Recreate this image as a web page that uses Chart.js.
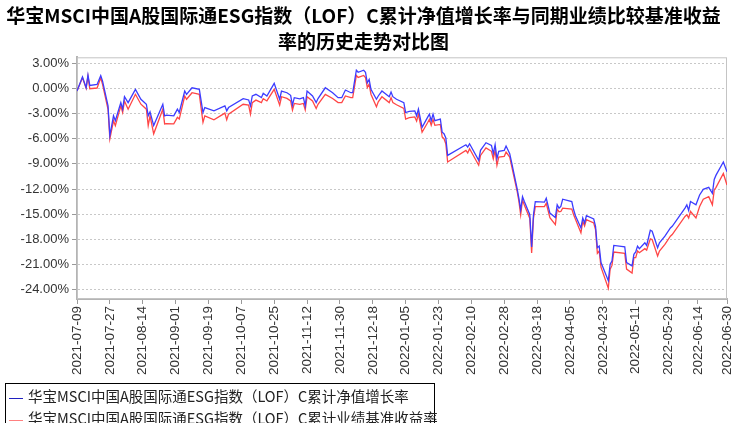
<!DOCTYPE html>
<html>
<head>
<meta charset="utf-8">
<script src="https://cdn.jsdelivr.net/npm/chart.js@4.4.1/dist/chart.umd.min.js"></script>
<style>
  body { margin: 0; background: #fff; }
  #wrap { position: relative; width: 733px; height: 423px; overflow: hidden; }
  #box { position: absolute; left: 0; top: 0; width: 733px; height: 384px; }
  #legend {
    position: absolute; left: 5px; top: 383px; width: 430px; height: 60px;
    border: 1px solid #000; box-sizing: border-box; padding-top: 1px;
    font: 14.5px 'Noto Sans CJK SC', sans-serif; color: #222;
  }
  #legend .row { height: 22px; line-height: 22px; white-space: nowrap; }
  #legend .mark { display: inline-block; width: 14px; height: 1px; vertical-align: middle; margin: 0 5px 0 3px; }
</style>
</head>
<body>
<div id="wrap">
  <div id="box"><canvas id="chart"></canvas></div>
  <div id="legend"></div>
</div>
<script>
// 标题与图例
const titleLines = ['华宝MSCI中国A股国际通ESG指数（LOF）C累计净值增长率与同期业绩比较基准收益', '率的历史走势对比图'];
const seriesNames = ['华宝MSCI中国A股国际通ESG指数（LOF）C累计净值增长率', '华宝MSCI中国A股国际通ESG指数（LOF）C累计业绩基准收益率'];

// 交易日
const dates = [
  '2021-07-09','2021-07-12','2021-07-14','2021-07-15','2021-07-16','2021-07-20','2021-07-22','2021-07-23','2021-07-26','2021-07-27',
  '2021-07-29','2021-07-30','2021-08-02','2021-08-03','2021-08-04','2021-08-06','2021-08-10','2021-08-13','2021-08-16','2021-08-17',
  '2021-08-18','2021-08-20','2021-08-25','2021-08-26','2021-08-27','2021-08-31','2021-09-02','2021-09-03','2021-09-06','2021-09-07',
  '2021-09-10','2021-09-14','2021-09-16','2021-09-17','2021-09-22','2021-09-28','2021-09-29','2021-09-30','2021-10-08','2021-10-11',
  '2021-10-12','2021-10-13','2021-10-15','2021-10-18','2021-10-19','2021-10-21','2021-10-25','2021-10-28','2021-10-29','2021-11-01',
  '2021-11-03','2021-11-04','2021-11-05','2021-11-08','2021-11-10','2021-11-11','2021-11-12','2021-11-15','2021-11-17','2021-11-18',
  '2021-11-22','2021-11-26','2021-11-29','2021-12-01','2021-12-03','2021-12-06','2021-12-07','2021-12-09','2021-12-10','2021-12-13',
  '2021-12-14','2021-12-15','2021-12-16','2021-12-17','2021-12-20','2021-12-21','2021-12-23','2021-12-27','2021-12-28','2021-12-29',
  '2021-12-31','2022-01-04','2022-01-05','2022-01-07','2022-01-10','2022-01-11','2022-01-12','2022-01-14','2022-01-17','2022-01-18',
  '2022-01-19','2022-01-20','2022-01-21','2022-01-24','2022-01-25','2022-01-26','2022-01-27','2022-01-28','2022-02-07','2022-02-08',
  '2022-02-09','2022-02-14','2022-02-15','2022-02-18','2022-02-21','2022-02-22','2022-02-23','2022-02-24','2022-02-25','2022-02-28',
  '2022-03-01','2022-03-03','2022-03-04','2022-03-07','2022-03-08','2022-03-09','2022-03-10','2022-03-11','2022-03-14','2022-03-15',
  '2022-03-16','2022-03-17','2022-03-22','2022-03-23','2022-03-25','2022-03-28','2022-03-29','2022-03-30','2022-03-31','2022-04-01',
  '2022-04-06','2022-04-07','2022-04-08','2022-04-11','2022-04-12','2022-04-13','2022-04-14','2022-04-18','2022-04-19','2022-04-20',
  '2022-04-21','2022-04-22','2022-04-26','2022-04-27','2022-04-28','2022-04-29','2022-05-05','2022-05-06','2022-05-09','2022-05-10',
  '2022-05-11','2022-05-12','2022-05-13','2022-05-16','2022-05-17','2022-05-19','2022-05-20','2022-05-23','2022-05-24','2022-05-27',
  '2022-05-30','2022-05-31','2022-06-07','2022-06-08','2022-06-09','2022-06-10','2022-06-13','2022-06-15','2022-06-17','2022-06-20',
  '2022-06-22','2022-06-23','2022-06-24','2022-06-28','2022-06-30'
];

// 累计净值增长率 (%)
const navGrowth = [
  -0.32, 1.37, 0.07, 1.57, 0.35, 0.47, 1.53, 0.86, -2.09, -5.62,
  -3.27, -3.86, -1.70, -2.48, -0.99, -1.70, -0.12, -1.30, -1.89, -3.27,
  -2.80, -4.44, -1.89, -3.27, -3.18, -3.27, -2.48, -2.88, -0.32, -0.71,
  0.07, -0.12, -2.88, -2.29, -2.68, -2.09, -2.68, -2.29, -1.22, -1.38,
  -2.09, -0.91, -0.71, -1.11, -0.59, -0.91, 0.59, -1.30, -0.32, -0.52,
  -0.83, -2.00, -1.11, -1.25, -1.11, -2.09, -0.32, -0.91, -1.70, -1.22,
  0.07, -0.52, -1.11, -1.11, -0.20, -0.52, -0.52, 2.16, 1.92, 2.16,
  1.92, 0.66, 1.06, -0.12, -1.30, -0.91, -0.32, -0.99, -0.44, -0.99,
  -1.30, -1.70, -2.88, -2.75, -2.68, -3.27, -2.48, -4.64, -3.46, -3.07,
  -3.86, -3.07, -3.86, -3.66, -5.23, -5.40, -5.90, -7.98, -6.72, -7.00,
  -6.60, -8.57, -7.39, -6.48, -6.80, -7.78, -6.72, -8.37, -7.51, -7.39,
  -6.88, -7.78, -8.80, -11.90, -13.09, -14.47, -12.90, -13.49, -15.06, -18.90,
  -15.06, -13.49, -13.56, -13.09, -14.86, -15.38, -13.88, -14.27, -14.08, -13.21,
  -13.49, -14.47, -15.18, -16.63, -15.45, -16.04, -15.18, -15.57, -16.44, -18.99,
  -18.80, -20.76, -22.92, -20.96, -20.57, -18.72, -18.88, -20.76, -21.15, -19.78,
  -19.50, -18.80, -19.10, -18.40, -18.72, -16.91, -17.03, -18.99, -18.40, -17.62,
  -16.63, -16.44, -14.27, -13.88, -14.55, -13.49, -13.88, -12.70, -12.03, -11.79,
  -12.50, -10.85, -10.34, -8.77, -9.95
];

// 业绩比较基准收益率 (%)
const benchmark = [
  -0.32, 1.25, 0.00, 1.45, -0.04, 0.04, 1.25, 0.47, -2.50, -6.01,
  -3.86, -4.44, -2.09, -2.88, -1.50, -2.48, -0.71, -1.89, -2.48, -4.44,
  -3.27, -5.42, -2.48, -4.24, -4.20, -4.24, -3.46, -3.66, -0.91, -1.30,
  -0.52, -0.71, -4.05, -3.27, -3.74, -2.95, -3.74, -3.07, -1.90, -2.00,
  -3.07, -1.70, -1.40, -1.70, -1.22, -1.50, -0.12, -2.00, -1.00, -1.20,
  -1.50, -2.60, -1.80, -1.90, -1.80, -2.56, -1.00, -1.50, -2.40, -1.90,
  -0.71, -1.20, -1.70, -1.70, -0.90, -1.10, -1.10, 1.53, 1.30, 1.53,
  1.30, 0.10, 0.50, -0.70, -2.20, -1.60, -1.00, -1.70, -1.10, -1.70,
  -1.95, -2.40, -3.66, -3.50, -3.40, -3.90, -3.10, -5.23, -4.10, -3.70,
  -4.40, -3.70, -4.40, -4.30, -5.80, -6.00, -6.60, -8.77, -7.40, -7.70,
  -7.20, -9.16, -8.00, -7.10, -7.50, -8.40, -7.40, -9.16, -8.20, -8.10,
  -7.60, -8.18, -9.20, -12.20, -13.40, -15.06, -13.30, -13.90, -15.50, -19.60,
  -15.50, -14.10, -14.08, -13.70, -15.40, -16.24, -14.40, -14.70, -14.67, -14.27,
  -14.39, -15.06, -15.60, -17.22, -15.85, -16.40, -15.65, -16.04, -16.83, -19.66,
  -19.38, -21.30, -23.81, -21.54, -21.10, -19.50, -19.66, -21.54, -22.01, -20.17,
  -20.17, -19.38, -19.58, -19.10, -19.27, -17.93, -18.01, -19.97, -19.38, -18.60,
  -17.62, -17.42, -15.26, -15.06, -15.45, -14.67, -15.45, -14.08, -13.21, -12.90,
  -13.88, -12.11, -11.79, -10.14, -11.52
];

// 坐标轴刻度
const tickDates = [
  '2021-07-09','2021-07-27','2021-08-14','2021-09-01','2021-09-19','2021-10-07','2021-10-25','2021-11-12','2021-11-30','2021-12-18',
  '2022-01-05','2022-01-23','2022-02-10','2022-02-28','2022-03-18','2022-04-05','2022-04-23','2022-05-11','2022-05-29','2022-06-14','2022-06-30'
];
const yTicks = [3, 0, -3, -6, -9, -12, -15, -18, -21, -24];

// 日期 -> 距起始日的天数
const day0 = Date.UTC(2021, 6, 9);
function dayOf(s) {
  const [y, m, d] = s.split('-').map(Number);
  return Math.round((Date.UTC(y, m - 1, d) - day0) / 864e5);
}

const lineColors = ['#3c3cff', '#ff4646'];
const legendColors = ['#2020c0', '#ff8080'];

// 绘图区外框
const plotBorder = {
  id: 'plotBorder',
  beforeDatasetsDraw(chart) {
    const { ctx, chartArea: a } = chart;
    ctx.save();
    ctx.strokeStyle = '#c4c4c4';
    ctx.lineWidth = 1;
    ctx.strokeRect(a.left + 0.5, a.top + 0.5, a.right - a.left - 1, a.bottom - a.top - 1);
    ctx.restore();
  }
};

new Chart(document.getElementById('chart'), {
  type: 'line',
  data: {
    datasets: [navGrowth, benchmark].map((vals, i) => ({
      label: seriesNames[i],
      data: vals.map((v, j) => ({ x: dayOf(dates[j]), y: v })),
      borderColor: lineColors[i],
      borderWidth: 1.3,
      pointRadius: 0,
      tension: 0,
      fill: false
    }))
  },
  options: {
    responsive: true,
    maintainAspectRatio: false,
    animation: false,
    layout: { padding: { left: 0, right: 6, top: 0, bottom: 0 } },
    plugins: {
      legend: { display: false },
      tooltip: { enabled: false },
      title: {
        display: true,
        text: titleLines,
        color: '#000',
        font: { family: 'Noto Sans CJK SC', size: 19, weight: 'bold', lineHeight: 1.35 },
        padding: { top: 3, bottom: 3 }
      }
    },
    scales: {
      x: {
        type: 'linear',
        min: 0,
        max: dayOf('2022-06-30'),
        afterBuildTicks: s => { s.ticks = tickDates.map(d => ({ value: dayOf(d) })); },
        afterFit: s => { s.height = 85; s.paddingLeft = 0; s.paddingRight = 0; },
        grid: { drawOnChartArea: false, drawTicks: true, tickLength: 5, tickColor: '#999' },
        border: { color: '#b4b4b4', width: 2 },
        ticks: {
          autoSkip: false, maxRotation: 90, minRotation: 90, padding: 2,
          color: '#333', font: { family: 'Liberation Sans', size: 13.5 },
          callback: v => tickDates.find(d => dayOf(d) === v) || ''
        }
      },
      y: {
        min: -25.1,
        max: 3.7,
        afterBuildTicks: s => { s.ticks = yTicks.map(v => ({ value: v })); },
        afterFit: s => { s.width = 77; s.paddingTop = 0; s.paddingBottom = 0; },
        grid: { color: '#c8c8c8', tickColor: '#999', tickLength: 5 },
        border: { color: '#b4b4b4', width: 2, dash: [2, 2] },
        ticks: {
          padding: 3, color: '#333', font: { family: 'Liberation Sans', size: 13 },
          callback: v => v.toFixed(2) + '%'
        }
      }
    }
  },
  plugins: [plotBorder]
});

// 图例
const legend = document.getElementById('legend');
seriesNames.forEach((name, i) => {
  const row = document.createElement('div');
  row.className = 'row';
  const mark = document.createElement('span');
  mark.className = 'mark';
  mark.style.background = legendColors[i];
  row.appendChild(mark);
  row.appendChild(document.createTextNode(name));
  legend.appendChild(row);
});
</script>
</body>
</html>
